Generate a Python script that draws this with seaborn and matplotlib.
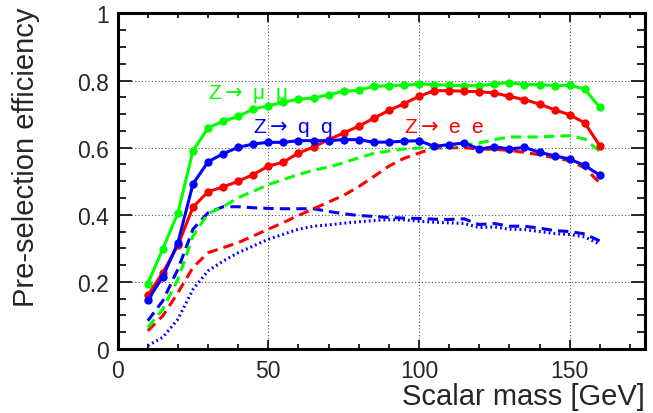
import numpy as np
import pandas as pd
import matplotlib
matplotlib.use("Agg")
import matplotlib.pyplot as plt
from matplotlib.ticker import MultipleLocator
import seaborn as sns

# Scalar mass points [GeV]
mass = list(range(10, 165, 5))

# Pre-selection efficiency, full selection (points + solid line)
eff_mumu = [0.195, 0.299, 0.406, 0.591, 0.659, 0.679, 0.693, 0.715, 0.725, 0.735,
            0.745, 0.748, 0.758, 0.768, 0.771, 0.783, 0.785, 0.786, 0.790, 0.788,
            0.786, 0.785, 0.785, 0.790, 0.794, 0.788, 0.788, 0.785, 0.786, 0.775,
            0.720]
eff_qq = [0.146, 0.215, 0.317, 0.492, 0.558, 0.582, 0.601, 0.611, 0.616, 0.616,
          0.621, 0.621, 0.621, 0.624, 0.624, 0.616, 0.617, 0.619, 0.621, 0.604,
          0.609, 0.614, 0.596, 0.603, 0.596, 0.601, 0.586, 0.576, 0.566, 0.547,
          0.518]
eff_ee = [0.160, 0.228, 0.309, 0.423, 0.469, 0.483, 0.500, 0.520, 0.545, 0.557,
          0.584, 0.602, 0.624, 0.644, 0.664, 0.688, 0.711, 0.731, 0.753, 0.770,
          0.770, 0.768, 0.767, 0.763, 0.753, 0.743, 0.730, 0.713, 0.698, 0.674,
          0.606]

# Alternative selections (dashed / dotted lines)
eff_mumu_alt = [0.064, 0.119, 0.208, 0.337, 0.404, 0.424, 0.451, 0.470, 0.490, 0.505,
                0.520, 0.533, 0.542, 0.555, 0.570, 0.583, 0.590, 0.596, 0.599, 0.601,
                0.604, 0.608, 0.614, 0.624, 0.632, 0.632, 0.632, 0.634, 0.636, 0.626,
                0.589]
eff_ee_alt = [0.054, 0.099, 0.168, 0.243, 0.287, 0.302, 0.317, 0.337, 0.357, 0.377,
              0.398, 0.418, 0.438, 0.458, 0.484, 0.514, 0.545, 0.568, 0.584, 0.599,
              0.600, 0.600, 0.596, 0.595, 0.592, 0.586, 0.579, 0.570, 0.561, 0.540,
              0.495]
eff_qq_alt = [0.084, 0.144, 0.238, 0.357, 0.406, 0.424, 0.424, 0.421, 0.419, 0.418,
              0.418, 0.418, 0.410, 0.403, 0.398, 0.395, 0.392, 0.390, 0.389, 0.387,
              0.386, 0.388, 0.371, 0.374, 0.366, 0.366, 0.360, 0.353, 0.350, 0.343,
              0.322]
eff_qq_alt2 = [0.010, 0.035, 0.089, 0.178, 0.233, 0.262, 0.287, 0.307, 0.327, 0.342,
               0.357, 0.366, 0.370, 0.375, 0.379, 0.383, 0.385, 0.385, 0.381, 0.378,
               0.376, 0.374, 0.362, 0.364, 0.357, 0.356, 0.350, 0.344, 0.341, 0.334,
               0.312]

channel_labels = ["Z$\\rightarrow$ \u03bc  \u03bc", "Z$\\rightarrow$ q  q",
                  "Z$\\rightarrow$ e  e"]

df = pd.DataFrame({
    "mass": mass,
    "mumu": eff_mumu, "qq": eff_qq, "ee": eff_ee,
    "mumu_alt": eff_mumu_alt, "ee_alt": eff_ee_alt,
    "qq_alt": eff_qq_alt, "qq_alt2": eff_qq_alt2,
})

sns.set_style("white")
plt.rcParams["font.family"] = ["Liberation Sans", "DejaVu Sans"]
plt.rcParams["mathtext.fontset"] = "dejavusans"

GREEN, BLUE, RED = "#00ff00", "#0000ff", "#ff0000"

fig = plt.figure(figsize=(6.53, 4.14), dpi=100)
ax = fig.add_axes([0.1802, 0.1546, 0.9877 - 0.1802, 0.9650 - 0.1546])

lw = 2.2
# dashed / dotted curves first, solid curves with markers on top
sns.lineplot(data=df, x="mass", y="qq_alt2", ax=ax, color=BLUE, lw=lw,
             linestyle=(0, (0.6, 1.0)))
sns.lineplot(data=df, x="mass", y="qq_alt", ax=ax, color=BLUE, lw=lw,
             linestyle=(0, (3.4, 2.0)))
sns.lineplot(data=df, x="mass", y="ee_alt", ax=ax, color=RED, lw=lw,
             linestyle=(0, (3.4, 2.0)))
sns.lineplot(data=df, x="mass", y="mumu_alt", ax=ax, color=GREEN, lw=lw,
             linestyle=(0, (3.4, 2.0)))

for col, c in [("mumu", GREEN), ("ee", RED), ("qq", BLUE)]:
    sns.lineplot(data=df, x="mass", y=col, ax=ax, color=c, lw=lw,
                 marker="o", markersize=6.0, markeredgewidth=0)

ax.set_xlim(0, 175)
ax.set_ylim(0, 1)

ax.xaxis.set_minor_locator(MultipleLocator(10))
ax.yaxis.set_minor_locator(MultipleLocator(0.05))
ax.set_yticks([0, 0.2, 0.4, 0.6, 0.8, 1.0])
ax.set_yticklabels(["0", "0.2", "0.4", "0.6", "0.8", "1"])
ax.set_xticks([0, 50, 100, 150])
ax.set_xticklabels(["0", "50", "100", "150"])

ax.tick_params(axis="x", which="major", direction="in", length=6.5, width=1.4,
               top=True, bottom=True, labelsize=16.5, pad=7)
ax.tick_params(axis="x", which="minor", direction="in", length=3.6, width=1.4,
               top=True, bottom=True)
ax.tick_params(axis="y", which="major", direction="in", length=10, width=1.4,
               left=True, right=True, labelsize=16.5, pad=6)
ax.tick_params(axis="y", which="minor", direction="in", length=5.8, width=1.4,
               left=True, right=True)

ax.grid(True, which="major", color="#555555", linestyle=(0, (1, 2)), lw=0.8)
for s in ax.spines.values():
    s.set_color("black")
    s.set_linewidth(2.2)

ax.set_xlabel("Scalar mass [GeV]", fontsize=21, ha="right", x=1.0, labelpad=0)
ax.set_ylabel("Pre-selection efficiency", fontsize=21, ha="right", y=1.02,
              labelpad=27)

ax.text(30, 0.749, channel_labels[0], color=GREEN, fontsize=15)
ax.text(45, 0.648, channel_labels[1], color=BLUE, fontsize=15)
ax.text(95, 0.648, channel_labels[2], color=RED, fontsize=15)

fig.savefig("out.png", dpi=100)
